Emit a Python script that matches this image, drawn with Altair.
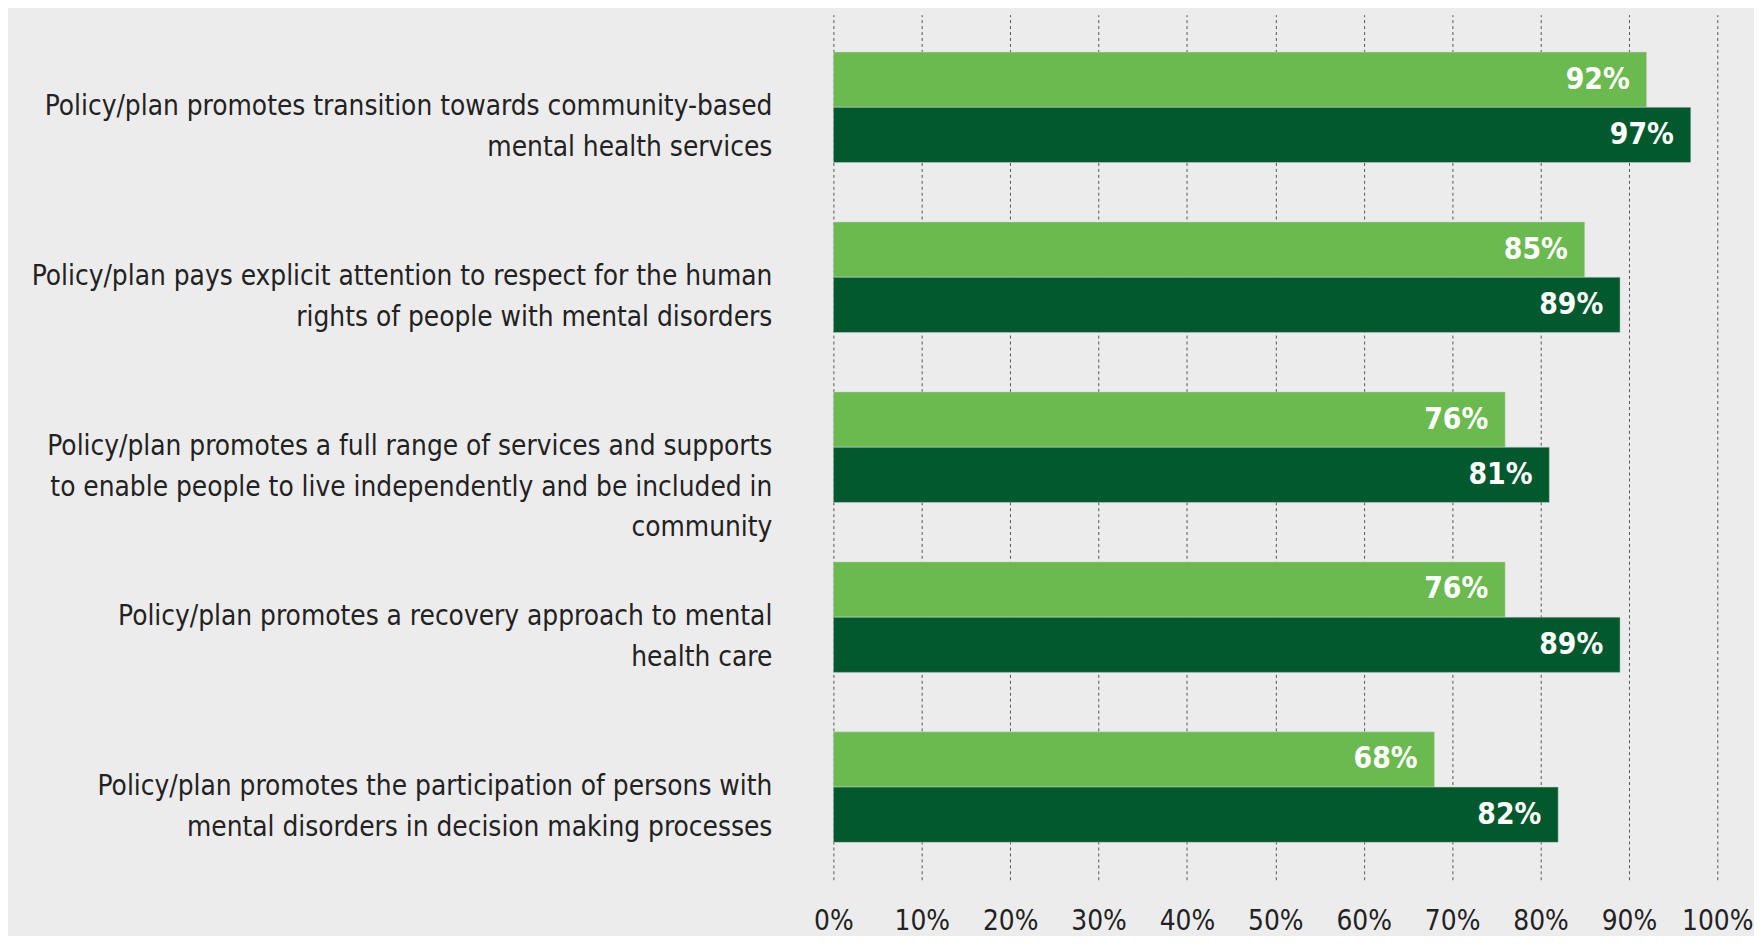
import altair as alt
import pandas as pd

categories = [
    "Policy/plan promotes transition towards community-based|mental health services",
    "Policy/plan pays explicit attention to respect for the human|rights of people with mental disorders",
    "Policy/plan promotes a full range of services and supports|to enable people to live independently and be included in|community",
    "Policy/plan promotes a recovery approach to mental|health care",
    "Policy/plan promotes the participation of persons with|mental disorders in decision making processes",
]
series = ["Series 1", "Series 2"]
values_1 = [92, 85, 76, 76, 68]
values_2 = [97, 89, 81, 89, 82]

rows = []
for c, a, b in zip(categories, values_1, values_2):
    rows.append({"category": c, "series": series[0], "value": a, "label": f"{a}%"})
    rows.append({"category": c, "series": series[1], "value": b, "label": f"{b}%"})
df = pd.DataFrame(rows)

FONT = "DejaVu Sans Condensed, Liberation Sans, sans-serif"

y_enc = alt.Y(
    "category:N",
    sort=categories,
    scale=alt.Scale(paddingInner=0.35, paddingOuter=0.22),
    axis=alt.Axis(
        title=None,
        labelExpr="split(datum.label, '|')",
        labelLimit=0,
        labelPadding=62,
        labelFontSize=28,
        labelLineHeight=41,
        labelColor="#222222",
        labelFont=FONT,
        ticks=False,
        domain=False,
        grid=False,
    ),
)
x_enc = alt.X(
    "value:Q",
    scale=alt.Scale(domain=[0, 100], nice=False),
    axis=alt.Axis(
        title=None,
        values=list(range(0, 101, 10)),
        labelExpr="datum.value + '%'",
        labelFontSize=28,
        labelFont=FONT,
        labelColor="#222222",
        labelPadding=28,
        labelOverlap=False,
        labelFlush=False,
        ticks=False,
        domain=False,
        grid=True,
        gridColor="#555555",
        gridDash=[3, 3],
        gridWidth=1,
    ),
)
yoff = alt.YOffset("series:N", sort=series)
color = alt.Color(
    "series:N",
    sort=series,
    scale=alt.Scale(domain=series, range=["#6BBA50", "#03592E"]),
    legend=None,
)

bars = alt.Chart(df).mark_bar(stroke="#d0d0d0", strokeWidth=0.5).encode(
    y=y_enc, x=x_enc, yOffset=yoff, color=color
)
text = alt.Chart(df).mark_text(
    align="right", baseline="middle", dx=-17, color="white",
    fontSize=30, fontWeight="bold", font=FONT
).encode(y=alt.Y("category:N", sort=categories), x="value:Q", yOffset=yoff, text="label:N")

chart = (
    alt.layer(bars, text)
    .properties(
        width=891,
        height=872,
        background="#ECECEC",
        autosize=alt.AutoSizeParams(type="none"),
        padding={"left": 832, "top": 3, "right": 37, "bottom": 53},
    )
    .configure_view(stroke=None)
)

chart.save("out.html", embed_options={"renderer": "svg", "actions": False})
